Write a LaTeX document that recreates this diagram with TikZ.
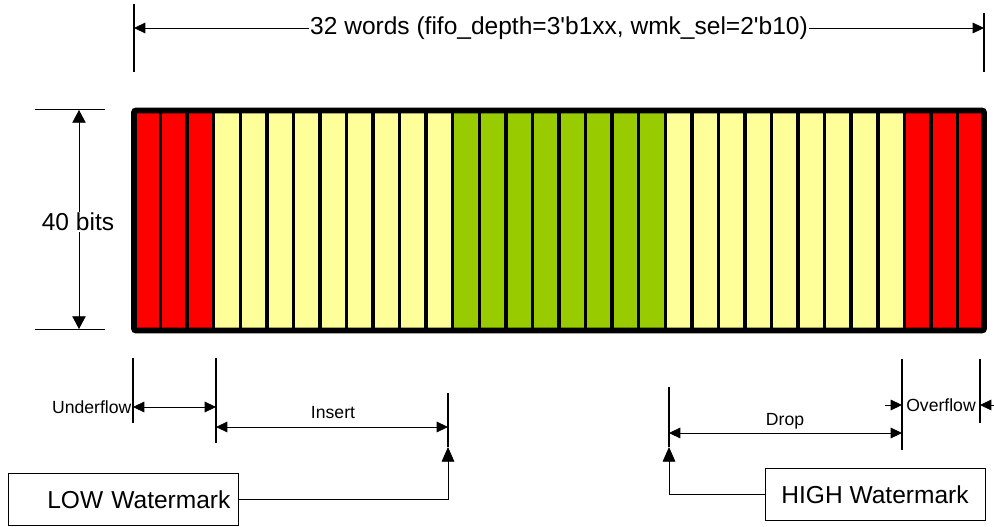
\documentclass[tikz,border=0pt]{standalone}
\usepackage{xcolor}
\usepackage{fontspec}
\setmainfont{Liberation Sans}
\usepackage{tikz}
\usetikzlibrary{arrows.meta}
\usetikzlibrary{positioning,calc}

\definecolor{fifored}{RGB}{255,0,0}
\definecolor{fifoyellow}{RGB}{255,255,153}
\definecolor{fifogreen}{RGB}{153,204,0}

\tikzset{
  biglabel/.style={font=\fontsize{18.4}{22}\selectfont},
  smalllabel/.style={font=\fontsize{13.2}{16}\selectfont},
  cell/.style={draw=black, line width=2.6pt},
  extline/.style={draw=black, line width=1.1pt},
  dimline/.style={line width=0.6pt, {Triangle[length=8.5pt,width=8pt]}-{Triangle[length=8.5pt,width=8pt]}},
  bitsline/.style={line width=0.6pt, {Triangle[length=9.5pt,width=10pt]}-{Triangle[length=9.5pt,width=10pt]}},
  wmkline/.style={line width=0.6pt, -{Triangle[length=11pt,width=9.5pt]}},
  wmkbox/.style={draw, line width=0.6pt, biglabel, minimum height=39pt}
}

\begin{document}
\begin{tikzpicture}[x=0.75pt, y=-0.75pt]
        \useasboundingbox (0,0) rectangle (994,527);
        % fifo words
        \foreach \i in {0,1,2,29,30,31}
            \draw[cell, fill=fifored] ({134+\i*26.5625},110.5) rectangle ++(26.5625,220);
        \foreach \a/\b in {3/11,20/28}
            \foreach \i in {\a,...,\b}
                \draw[cell, fill=fifoyellow] ({134+\i*26.5625},110.5) rectangle ++(26.5625,220);
        \foreach \i in {12,...,19}
            \draw[cell, fill=fifogreen] ({134+\i*26.5625},110.5) rectangle ++(26.5625,220);
        \draw[line width=4.3pt, rounded corners=1.5pt] (134,110.5) rectangle (984,330.5);

        % depth
        \draw[extline] (134,4) -- (134,72);
        \draw[extline] (984,13) -- (984,72);
        \coordinate (wl) at (134,28);
        \coordinate (wr) at (984,28);
        \draw[dimline] (wl) -- (wr);
        \node[biglabel, fill=white, inner sep=1pt] (words) at ($(wl)!0.5!(wr)$)
            {32 words (fifo\_depth=3\textquotesingle b1xx, wmk\_sel=2\textquotesingle b10)};

        % width
        \draw[line width=0.75pt] (35,110) -- (105,110);
        \draw[line width=0.75pt] (35,329) -- (105,329);
        \coordinate (bt) at (79,110);
        \coordinate (bb) at (79,329);
        \draw[bitsline] (bt) -- (bb);
        \node[biglabel, fill=white, inner sep=1pt] (bits) at (78,222) {40 bits};

        % regions
        \draw[extline] (133,358) -- (133,423);
        \draw[extline] (216,358) -- (216,443);
        \draw[extline] (448,393) -- (448,447);
        \draw[extline] (669,387) -- (669,447);
        \draw[extline] (902,359) -- (902,450);
        \draw[extline] (980,359) -- (980,423);

        \coordinate (u1) at (133,407);
        \coordinate (u2) at (216,407);
        \draw[dimline] (u1) -- (u2);
        \node[smalllabel, anchor=east, inner sep=1pt] (uflow) at (u1) {Underflow};

        \coordinate (i1) at (216,427);
        \coordinate (i2) at (448,427);
        \draw[dimline] (i1) -- (i2);
        \node[smalllabel] (ins) at (333,413) {Insert};

        \coordinate (d1) at (669,433);
        \coordinate (d2) at (902,433);
        \draw[dimline] (d1) -- (d2);
        \node[smalllabel] (drop) at (785,421) {Drop};

        \coordinate (o1) at (885,405);
        \coordinate (o2) at (994,405);
        \coordinate (o3) at (980,405);
        \draw[line width=0.6pt, -{Triangle[length=8.5pt,width=8pt]}] (o1) -- (902,405);
        \draw[line width=0.6pt, -{Triangle[length=8.5pt,width=8pt]}] (o2) -- (o3);
        \node[smalllabel] (oflow) at (941,405) {Overflow};

        % watermarks
        \node[wmkbox, text width=160.5pt, align=right, inner xsep=6pt, anchor=north west] (low) at (8,473) {LOW Watermark};
        \coordinate (lowtip) at (448,447);
        \draw[wmkline] (low.east) -| (lowtip);

        \node[wmkbox, minimum width=165pt] (high) at (875,494.5) {HIGH Watermark};
        \coordinate (hightip) at (669,447);
        \draw[wmkline] (high.west) -| (hightip);
    \end{tikzpicture}
\end{document}
